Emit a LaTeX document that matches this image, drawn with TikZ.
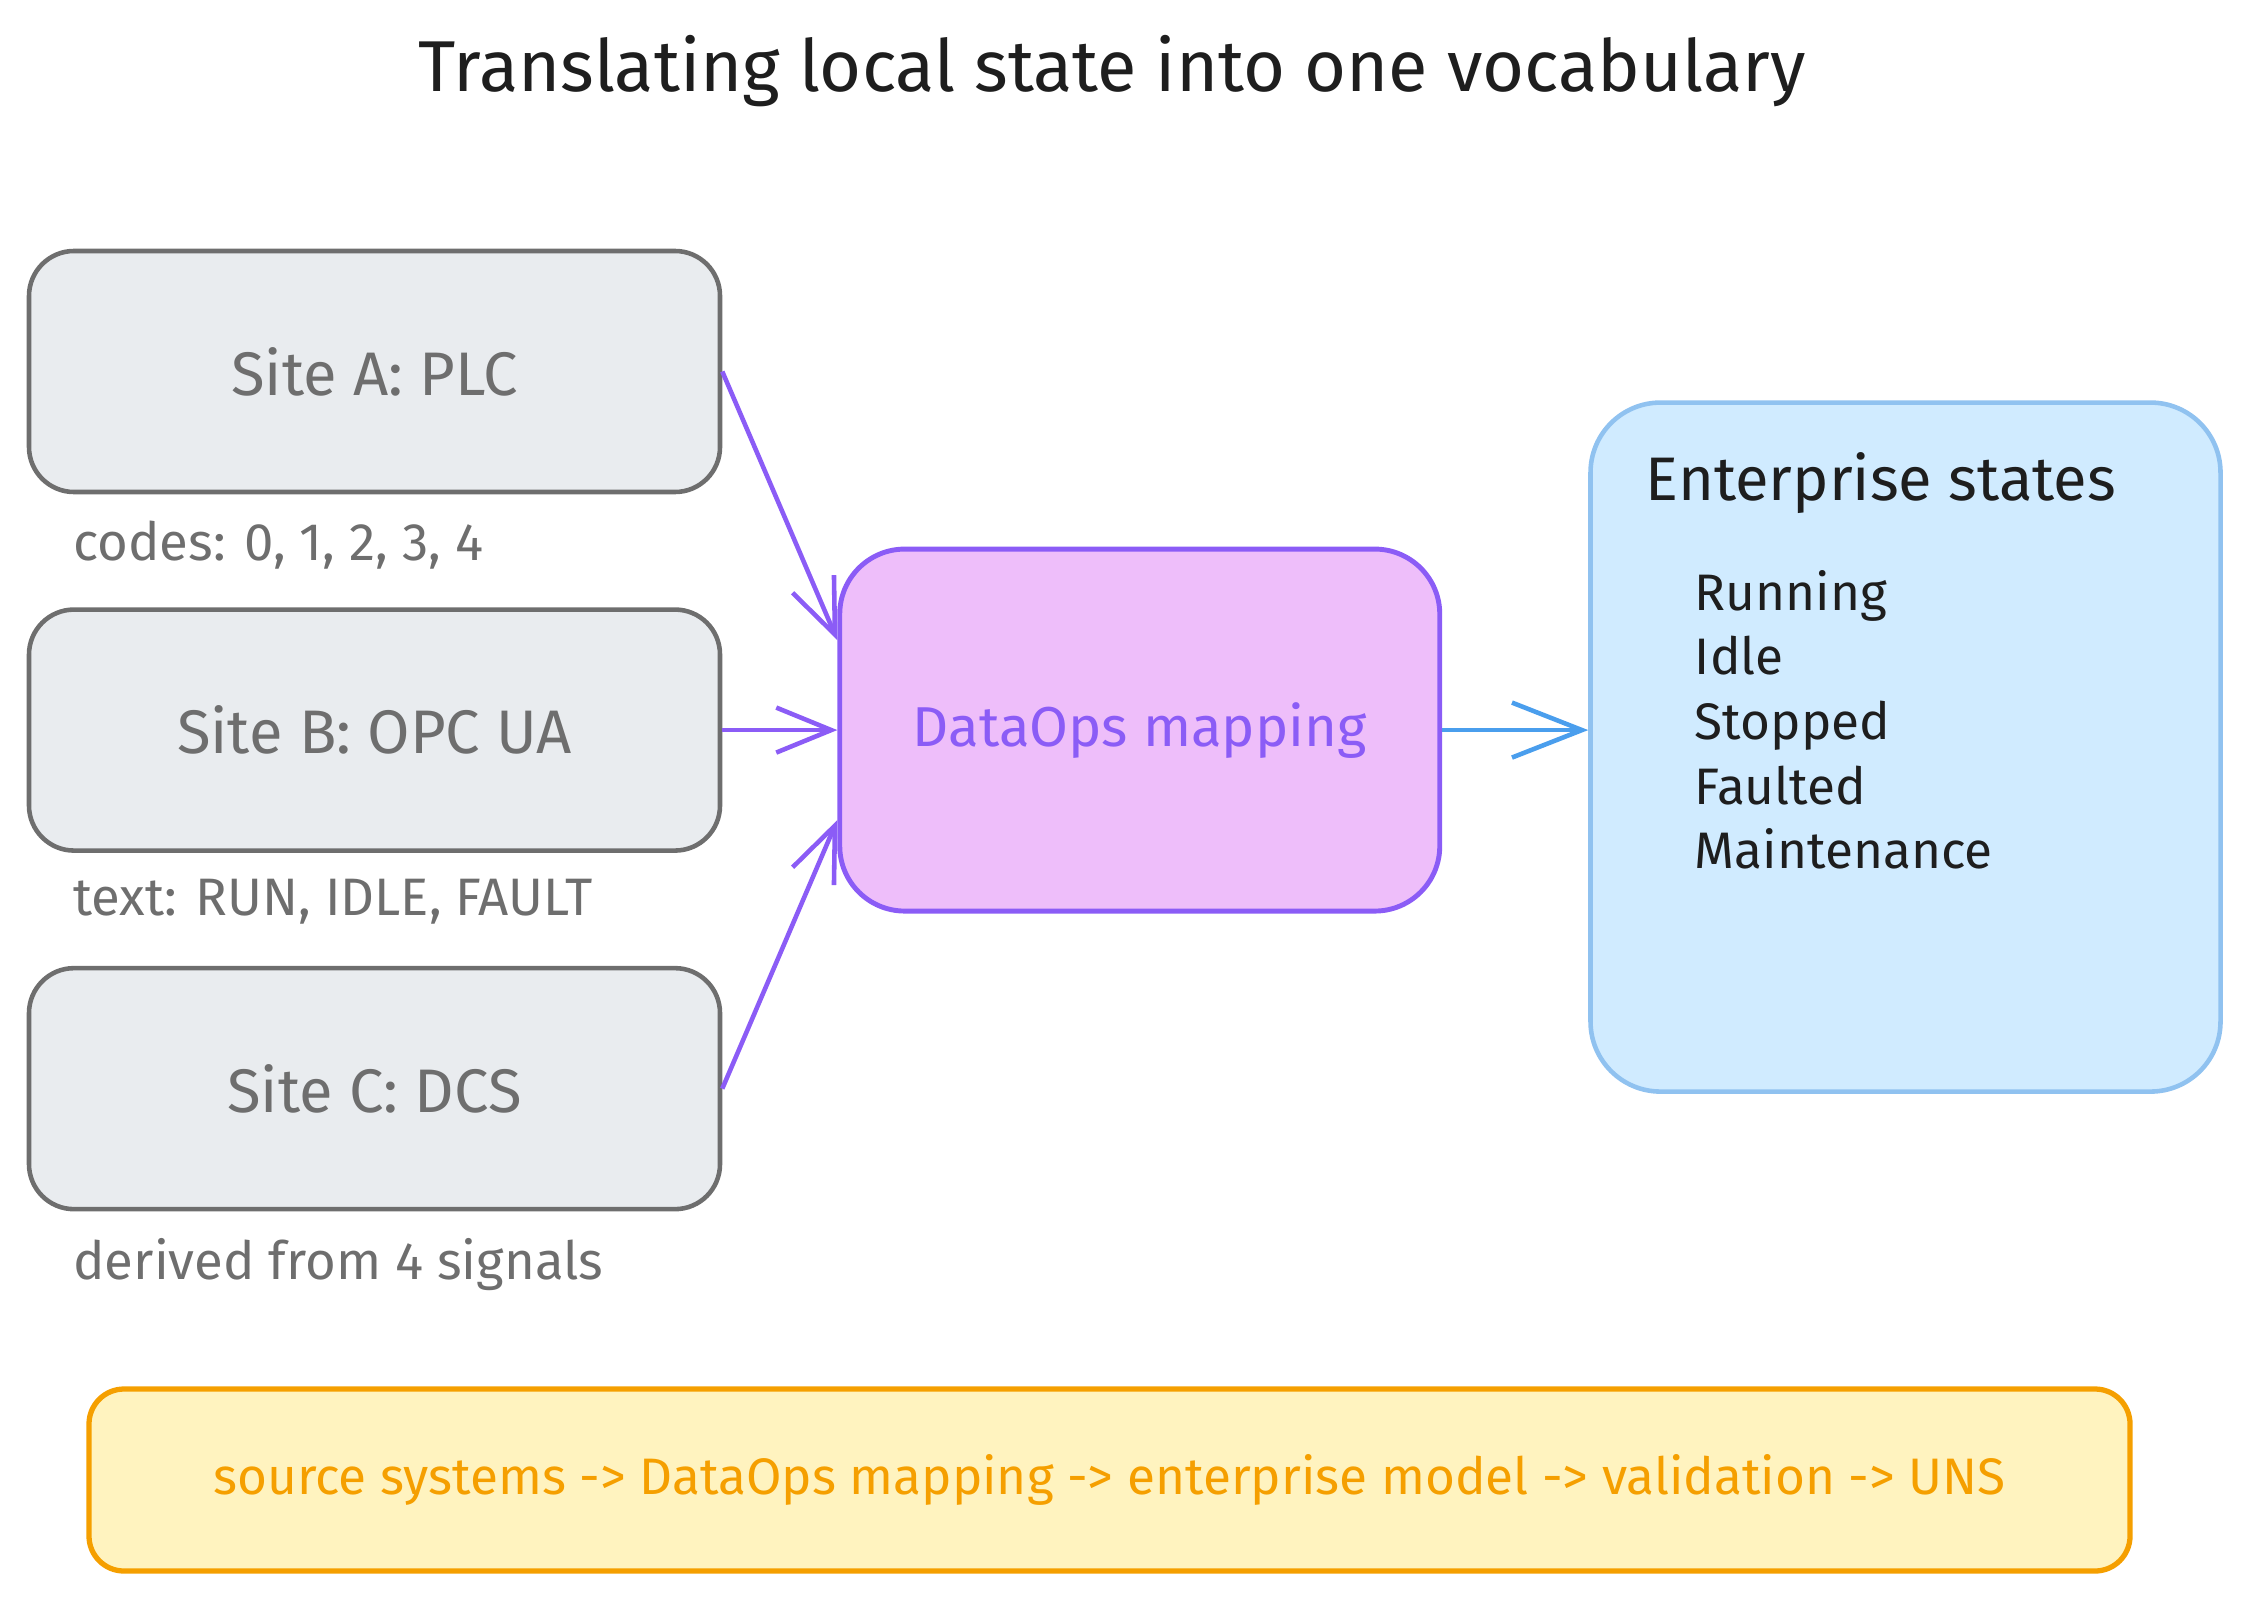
\documentclass[tikz,border=0pt]{standalone}
\usepackage{fontspec}
\setmainfont{Fira Sans}
\usepackage{xcolor}
\usetikzlibrary{positioning,calc,arrows.meta}

\definecolor{siteline}{HTML}{6E6E6E}
\definecolor{sitefill}{HTML}{E9ECEF}
\definecolor{mapline}{HTML}{8B5CF6}
\definecolor{mapfill}{HTML}{EEBEFA}
\definecolor{entline}{HTML}{90C2F0}
\definecolor{entfill}{HTML}{D0EBFF}
\definecolor{entarrow}{HTML}{4A9EED}
\definecolor{flowline}{HTML}{F59F00}
\definecolor{flowfill}{HTML}{FFF3BF}
\definecolor{inkblack}{HTML}{1E1E1E}

\begin{document}
\begin{tikzpicture}[
  site/.style={draw=siteline,fill=sitefill,line width=1.3pt,rounded corners=0.45cm,
    minimum width=6.91cm,minimum height=2.41cm,text=siteline,font=\fontsize{17.5}{21}\selectfont},
  sitenote/.style={text=siteline,font=\fontsize{15}{18}\selectfont,inner sep=0pt},
  mapbox/.style={draw=mapline,fill=mapfill,line width=1.4pt,rounded corners=0.65cm,
    minimum width=6.0cm,minimum height=3.62cm,text=mapline,font=\fontsize{16}{19}\selectfont},
  entbox/.style={draw=entline,fill=entfill,line width=1.3pt,rounded corners=0.7cm,
    minimum width=6.3cm,minimum height=6.89cm},
  flowbox/.style={draw=flowline,fill=flowfill,line width=1.5pt,rounded corners=0.35cm,
    minimum width=20.41cm,minimum height=1.82cm,text=flowline,font=\fontsize{14.6}{18}\selectfont},
  inflow/.style={-{Straight Barb[length=0.55cm,width=0.45cm]},line width=1.3pt,color=mapline},
  outflow/.style={-{Straight Barb[length=0.7cm,width=0.55cm]},line width=1.3pt,color=entarrow}
]
\useasboundingbox (0,0) rectangle (22.5,16.01);

% title
\node[font=\fontsize{20.5}{24}\selectfont,text=inkblack] (title) at (11.12,15.30) {Translating local state into one vocabulary};

% three source sites
\node[site] (siteA) at (3.745,12.295) {Site A: PLC};
\node[site,below=1.13cm of siteA] (siteB) {Site B: OPC UA};
\node[site,below=1.13cm of siteB] (siteC) {Site C: DCS};

\node[sitenote,below right=0.26cm and 0.46cm of siteA.south west] (noteA) {codes: 0, 1, 2, 3, 4};
\node[sitenote,below right=0.26cm and 0.46cm of siteB.south west] (noteB) {text: RUN, IDLE, FAULT};
\node[sitenote,below right=0.26cm and 0.46cm of siteC.south west] (noteC) {derived from 4 signals};

% mapping and enterprise model
\node[mapbox,right=1.15cm of siteB] (map) {DataOps mapping};
\node[entbox,right=1.46cm of map,yshift=-0.17cm] (ent) {};

\node[anchor=west,text=inkblack,font=\fontsize{17.5}{21}\selectfont] (enttitle) at ($(ent.north west)+(0.45,-0.83)$) {Enterprise states};
\node[anchor=north west,align=left,inner sep=0pt,text=inkblack,font=\fontsize{14.6}{18.4}\selectfont] (entlist) at ($(ent.north west)+(1.06,-1.69)$) {Running\\Idle\\Stopped\\Faulted\\Maintenance};

% pipeline summary
\node[flowbox] (flow) at (11.095,1.21) {source systems -> DataOps mapping -> enterprise model -> validation -> UNS};

% connectors
\draw[inflow] (siteA.east) -- ($(map.west)+(0,0.9)$);
\draw[inflow] (siteB.east) -- (map.west);
\draw[inflow] (siteC.east) -- ($(map.west)+(0,-0.9)$);
\draw[outflow] (map.east) -- (map.east -| ent.west);

\end{tikzpicture}
\end{document}
